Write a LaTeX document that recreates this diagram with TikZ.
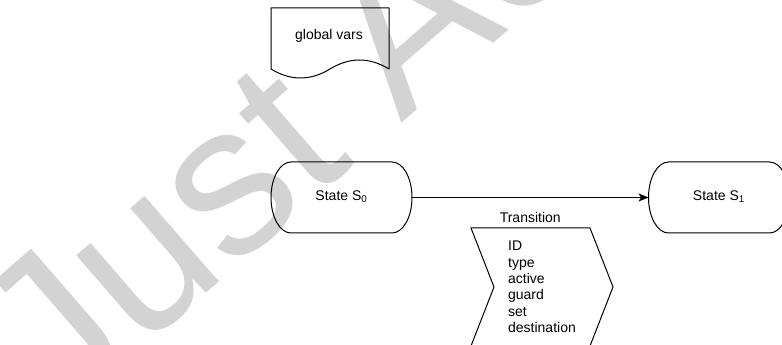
\documentclass[tikz,border=0pt]{standalone}
\usepackage{fontspec}
\setmainfont{Liberation Sans}
\usetikzlibrary{arrows.meta}
\definecolor{wmgray}{RGB}{211,211,211}
\tikzset{
  every node/.style={inner sep=0pt, outer sep=0pt},
  lbl/.style={font=\fontsize{10.5}{12.3}\selectfont},
  statebox/.style={lbl, minimum width=105.75pt, minimum height=53.25pt,
    text height=6.5pt, text depth=2pt},
  outline/.style={draw=black, line width=0.75pt},
  stepnode/.style={lbl, align=left, minimum width=106.5pt, minimum height=88.5pt},
  watermark/.style={text=wmgray, font=\fontsize{161}{161}\selectfont, rotate=41, anchor=base west}
}
\begin{document}
\begin{tikzpicture}[x=0.75pt, y=-0.75pt]
\useasboundingbox (0,0) rectangle (782,345);
% watermark
\node[watermark] (wm) at (59,421) {Just Ac};
% document shape
\node[lbl, anchor=base] (doc) at (329,39.3) {global vars};
\draw[outline, line join=round] (271,69) -- (271,8) -- (389,8) -- (389,69)
  .. controls (369.3,57) and (349.7,57) .. (330,69)
  .. controls (310.3,81) and (290.7,81) .. (271,69) -- cycle;
% states
\node[statebox] (s0) at (341.5,197.5) {State S\textsubscript{0}};
\node[statebox] (s1) at (719,197.5) {State S\textsubscript{1}};
\foreach \s in {s0,s1}{
  \draw[outline] ([xshift=15pt]\s.north west) -- ([xshift=-15pt]\s.north east)
    arc[start angle=90, end angle=-90, x radius=15pt, y radius=26.625pt]
    -- ([xshift=15pt]\s.south west)
    arc[start angle=270, end angle=90, x radius=15pt, y radius=26.625pt] -- cycle;
}
% transition edge
\draw[outline, -{Stealth[length=7.5pt, width=6pt, inset=2pt]}] (s0.east) -- (s1.west)
  node[lbl, midway, anchor=base, yshift=-18.75pt] (tlabel) {Transition};
% transition step shape
\node[stepnode] (tr) at (542,287) {ID\\type\\active\\guard\\set\\destination};
\draw[outline, line join=miter] (tr.north west) -- ([xshift=-17.25pt]tr.north east) -- (tr.east)
  -- ([xshift=-17.25pt]tr.south east) -- (tr.south west) -- ([xshift=17.25pt]tr.west) -- cycle;
\end{tikzpicture}
\end{document}
